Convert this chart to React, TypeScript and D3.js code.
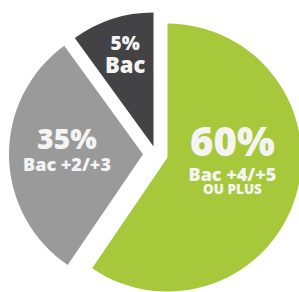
import React from 'react';
import * as d3 from 'd3';

// drawn share of each slice and its printed labels
const categories = ['Bac +4/+5', 'Bac +2/+3', 'Bac'];
const drawnShares = [59.5, 30.5, 10];
const percentLabels = ['60%', '35%', '5%'];
const subLabels = [['Bac +4/+5', 'OU PLUS'], ['Bac +2/+3'], ['Bac']];
const colors = ['#a7c83a', '#9a9a9a', '#434345'];

const W = 299;
const H = 292;
const R = 134;
const cx = 156;
const cy = 154;
const explode = [12, 13, 8];
const labelRadius = [68, 76, 92];

type Line = { text: string; size: number; dy: number };

function linesFor(i: number): Line[] {
  if (i === 0) {
    return [
      { text: percentLabels[0], size: 40, dy: -22 },
      { text: subLabels[0][0], size: 18, dy: 3 },
      { text: subLabels[0][1], size: 13.5, dy: 16 },
    ];
  }
  if (i === 1) {
    return [
      { text: percentLabels[1], size: 28, dy: -6 },
      { text: subLabels[1][0], size: 18, dy: 16 },
    ];
  }
  return [
    { text: percentLabels[2], size: 19, dy: -9 },
    { text: subLabels[2][0], size: 22, dy: 14 },
  ];
}

export default function App() {
  const pie = d3.pie<number>().sort(null).startAngle(0).endAngle(2 * Math.PI);
  const arcs = pie(drawnShares);
  const arc = d3.arc<d3.PieArcDatum<number>>().innerRadius(0).outerRadius(R);

  return (
    <svg
      width={W}
      height={H}
      style={{ position: 'absolute', left: 0, top: 0, background: '#fff' }}
      fontFamily="'Open Sans', 'Noto Sans', sans-serif"
    >
      <g transform={`translate(${cx},${cy})`}>
        {arcs.map((a, i) => {
          const mid = (a.startAngle + a.endAngle) / 2;
          const ox = Math.sin(mid) * explode[i];
          const oy = -Math.cos(mid) * explode[i];
          const lx = Math.sin(mid) * labelRadius[i];
          const ly = -Math.cos(mid) * labelRadius[i];
          return (
            <g key={categories[i]} transform={`translate(${ox},${oy})`}>
              <path d={arc(a) || ''} fill={colors[i]} />
              <g transform={`translate(${lx},${ly})`}>
                {linesFor(i).map((l) => (
                  <text
                    key={l.text}
                    y={l.dy}
                    textAnchor="middle"
                    fontWeight={800}
                    fontSize={l.size}
                    fill="#f4f4f4"
                  >
                    {l.text}
                  </text>
                ))}
              </g>
            </g>
          );
        })}
      </g>
    </svg>
  );
}
